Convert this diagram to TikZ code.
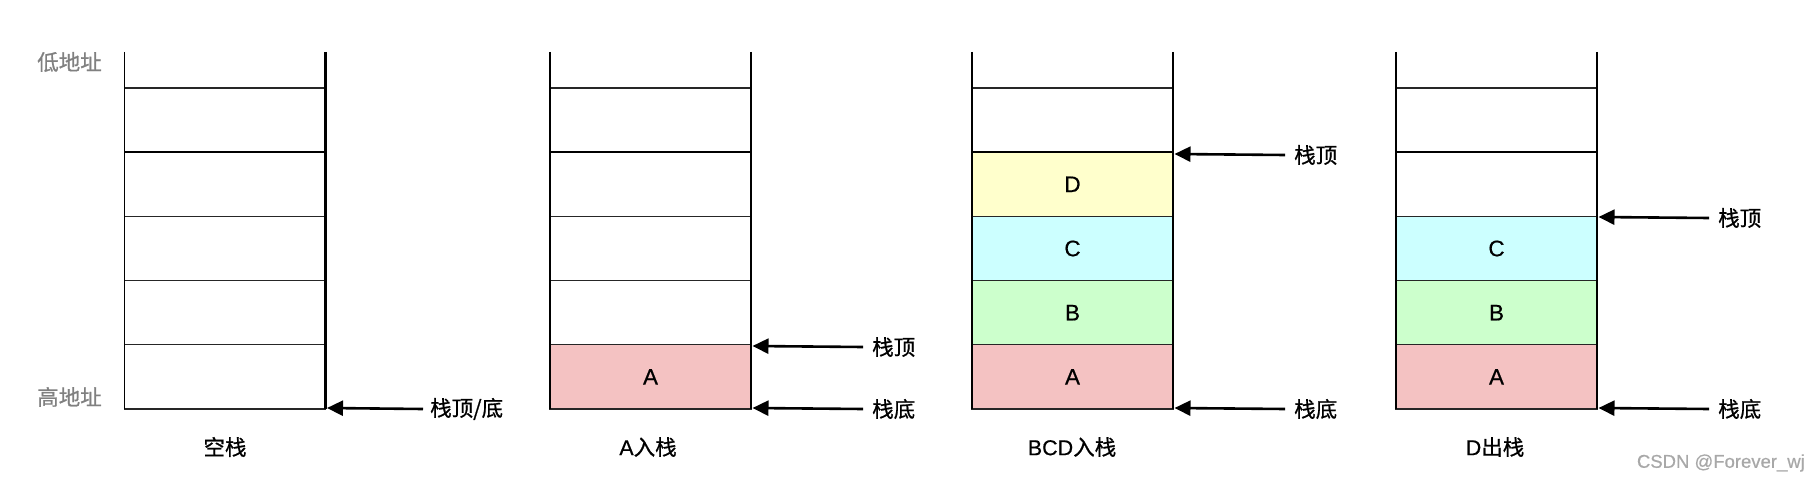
\documentclass[tikz,border=0pt]{standalone}
\usepackage{fontspec}
\setmainfont{Liberation Sans}[FakeBold=0.6]
\newfontfamily\cjk{Noto Sans CJK SC}[FakeBold=0.8]
\usetikzlibrary{arrows.meta}
\definecolor{cA}{HTML}{F4C2C2}
\definecolor{cB}{HTML}{CCFFCC}
\definecolor{cC}{HTML}{CCFFFF}
\definecolor{cD}{HTML}{FFFFCC}
\definecolor{addr}{HTML}{808080}
\definecolor{wm}{HTML}{A8A8A8}
\begin{document}
\begin{tikzpicture}[x=1pt,y=-1pt,
  cell/.style={draw=black!85, line width=1.3pt, minimum width=201pt, minimum height=64.2pt,
    inner sep=0pt, outer sep=0pt, font=\fontsize{22.5}{22.5}\selectfont},
  wall/.style={line width=1.6pt},
  rwall/.style={line width=2.6pt},
  sep/.style={line width=2.4pt},
  ptr/.style={line width=2.6pt, -{Triangle[length=16pt,width=15pt]}},
  lbl/.style={anchor=west, inner sep=0pt, font=\fontsize{21.5}{21.5}\selectfont\cjk},
  addrlbl/.style={inner sep=0pt, text=addr, font=\fontsize{21.5}{21.5}\selectfont\cjk},
  title/.style={inner sep=0pt, font=\fontsize{21.5}{21.5}\selectfont},
]
\useasboundingbox (0,0) rectangle (1820,484);

% ---------- stack 1: empty ----------
\node[cell] (s1r1) at (225,120.1) {};
\node[cell] (s1r2) at (225,184.3) {};
\node[cell] (s1r3) at (225,248.5) {};
\node[cell] (s1r4) at (225,312.7) {};
\node[cell] (s1r5) at (225,376.9) {};
\draw[wall] (124.5,52) -- (124.5,409);
\draw[rwall] (325.5,52) -- (325.5,409);
\draw[sep] (124.5,152.2) -- (325.5,152.2);

\node[addrlbl] (low) at (69.5,62) {低地址};
\node[addrlbl] (high) at (69.5,397) {高地址};

\node[lbl] (t1) at (430,409) {栈顶/底};
\coordinate (w1) at (327,408);
\draw[ptr] ([xshift=-7pt]t1.west) -- (w1);
\node[title] (n1) at (225,447) {\cjk 空栈};

% ---------- stack 2: A pushed ----------
\node[cell] (s2r1) at (650.5,120.1) {};
\node[cell] (s2r2) at (650.5,184.3) {};
\node[cell] (s2r3) at (650.5,248.5) {};
\node[cell] (s2r4) at (650.5,312.7) {};
\node[cell, fill=cA] (s2r5) at (650.5,376.9) {A};
\draw[wall] (550,52) -- (550,409);
\draw[rwall] (751,52) -- (751,409);
\draw[sep] (550,152.2) -- (751,152.2);

\node[lbl] (t2a) at (872,347) {栈顶};
\coordinate (w2a) at (752.5,346);
\draw[ptr] ([xshift=-9pt]t2a.west) -- (w2a);
\node[lbl] (t2b) at (872,409) {栈底};
\coordinate (w2b) at (752.5,408);
\draw[ptr] ([xshift=-9pt]t2b.west) -- (w2b);
\node[title] (n2) at (648,447) {A\cjk 入栈};

% ---------- stack 3: BCD pushed ----------
\node[cell] (s3r1) at (1072.5,120.1) {};
\node[cell, fill=cD] (s3r2) at (1072.5,184.3) {D};
\node[cell, fill=cC] (s3r3) at (1072.5,248.5) {C};
\node[cell, fill=cB] (s3r4) at (1072.5,312.7) {B};
\node[cell, fill=cA] (s3r5) at (1072.5,376.9) {A};
\draw[wall] (972,52) -- (972,88);
\draw[rwall] (972,88) -- (972,409);
\draw[wall] (1173,52) -- (1173,88);
\draw[rwall] (1173,88) -- (1173,409);
\draw[sep] (972,152.2) -- (1173,152.2);

\node[lbl] (t3a) at (1294,155) {栈顶};
\coordinate (w3a) at (1174.5,154);
\draw[ptr] ([xshift=-9pt]t3a.west) -- (w3a);
\node[lbl] (t3b) at (1294,409) {栈底};
\coordinate (w3b) at (1174.5,408);
\draw[ptr] ([xshift=-9pt]t3b.west) -- (w3b);
\node[title] (n3) at (1072,447) {BCD\cjk 入栈};

% ---------- stack 4: D popped ----------
\node[cell] (s4r1) at (1496.5,120.1) {};
\node[cell] (s4r2) at (1496.5,184.3) {};
\node[cell, fill=cC] (s4r3) at (1496.5,248.5) {C};
\node[cell, fill=cB] (s4r4) at (1496.5,312.7) {B};
\node[cell, fill=cA] (s4r5) at (1496.5,376.9) {A};
\draw[wall] (1396,52) -- (1396,409);
\draw[rwall] (1597,52) -- (1597,409);
\draw[sep] (1396,152.2) -- (1597,152.2);

\node[lbl] (t4a) at (1718,218) {栈顶};
\coordinate (w4a) at (1598.5,217);
\draw[ptr] ([xshift=-9pt]t4a.west) -- (w4a);
\node[lbl] (t4b) at (1718,409) {栈底};
\coordinate (w4b) at (1598.5,408);
\draw[ptr] ([xshift=-9pt]t4b.west) -- (w4b);
\node[title] (n4) at (1495,447) {D\cjk 出栈};

% watermark
\node[anchor=east, inner sep=0pt, text=wm, font=\fontsize{18.5}{18.5}\selectfont] (wmk) at (1805,463) {CSDN @Forever\_wj};
\end{tikzpicture}
\end{document}
